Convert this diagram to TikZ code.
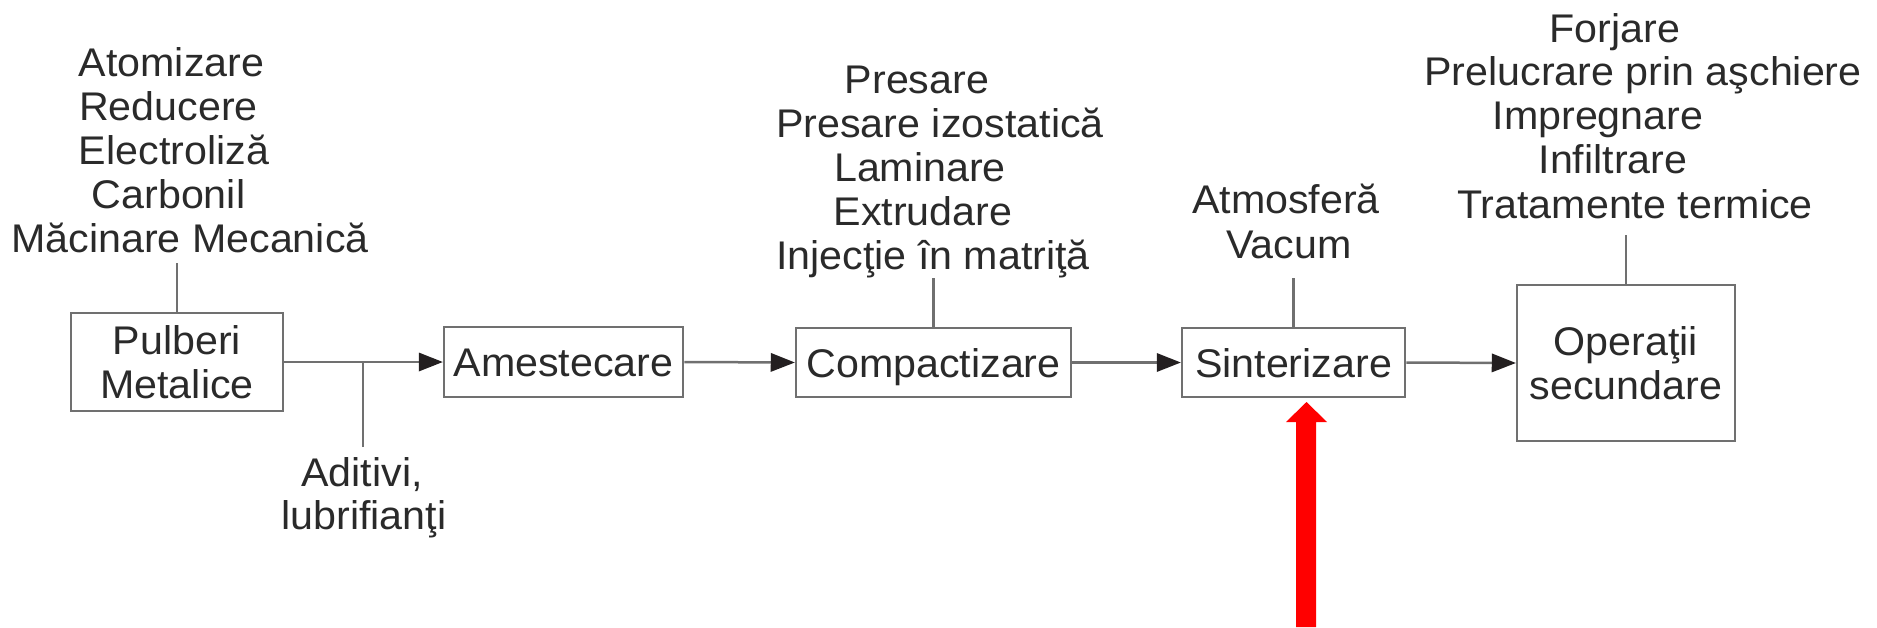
\documentclass[tikz,border=0pt]{standalone}
\usepackage{fontspec}
\setmainfont[FakeStretch=1.03]{Liberation Sans}
\usetikzlibrary{arrows.meta}
\definecolor{linegray}{HTML}{707070}
\definecolor{textgray}{HTML}{2A2A2A}
\definecolor{tipdark}{HTML}{231F20}
\begin{document}
\begin{tikzpicture}[x=1pt,y=-1pt,
  every node/.style={font=\fontsize{40}{44}\selectfont, text=textgray, inner sep=0pt},
  txt/.style={anchor=base},
  box/.style={draw=linegray, line width=2.5pt, align=center, text height=29pt, text depth=0pt},
  mbox/.style={draw=linegray, line width=2.5pt, align=center},
  link/.style={draw=linegray, line width=2.5pt},
  flow/.style={draw=linegray, line width=2.5pt, -{Triangle[length=24pt,width=19pt,fill=tipdark,line width=0pt]}}
]
\useasboundingbox (0,0) rectangle (1877,627);

% boxes
\node[mbox, minimum width=212pt, minimum height=98pt] (pul) at (177,362) {Pulberi\\Metalice};
\node[box, minimum width=239pt, minimum height=70pt] (ame) at (563.5,362) {Amestecare};
\node[box, minimum width=275pt, minimum height=69pt] (com) at (933.5,362.5) {Compactizare};
\node[box, minimum width=223pt, minimum height=69pt] (sin) at (1293.5,362.5) {Sinterizare};
\node[mbox, minimum width=218pt, minimum height=156pt] (ope) at (1626,363) {Opera\c{t}ii\\secundare};

% text blocks
\node[txt] (p1) at (171.5,76) {Atomizare};
\node[txt] (p2) at (168.5,120) {Reducere};
\node[txt] (p3) at (174,164) {Electroliză};
\node[txt] (p4) at (168.5,208) {Carbonil};
\node[txt] (p5) at (190,252) {Măcinare Mecanică};

\node[txt] (c1) at (917,93) {Presare};
\node[txt] (c2) at (940,137) {Presare izostatică};
\node[txt] (c3) at (920,181) {Laminare};
\node[txt] (c4) at (923,225) {Extrudare};
\node[txt] (c5) at (933,269) {Injecţie în matriţă};

\node[txt] (s1) at (1286,213) {Atmosferă};
\node[txt] (s2) at (1289,258) {Vacum};

\node[txt] (o1) at (1615,42) {Forjare};
\node[txt] (o2) at (1643,85) {Prelucrare prin aşchiere};
\node[txt] (o3) at (1598,129) {Impregnare};
\node[txt] (o4) at (1613,173) {Infiltrare};
\node[txt] (o5) at (1635,218) {Tratamente termice};

\node[txt] (a1) at (362,486) {Aditivi,};
\node[txt] (a2) at (364,529) {lubrifianţi};

% connector end points
\coordinate (pt) at (177,263);
\coordinate (ct) at (933.5,278);
\coordinate (st) at (1293.5,278);
\coordinate (ot) at (1626,235);
\coordinate (br) at (363,362);
\coordinate (ad) at (363,447);

% connectors
\draw[link] (pt) -- (pul.north);
\draw[link] (ct) -- (com.north);
\draw[link] (st) -- (sin.north);
\draw[link] (ot) -- (ope.north);
\draw[link] (ad) -- (br);

\draw[flow] (pul.east) -- (ame.west);
\draw[flow] (ame.east) -- (com.west);
\draw[flow] (com.east) -- (sin.west);
\draw[flow] (sin.east) -- (ope.west);

% red arrow
\fill[red] (1296,627) -- (1296,422) -- (1286,422) -- (1306.5,402) -- (1327,422) -- (1316,422) -- (1316,627) -- cycle;
\end{tikzpicture}
\end{document}
